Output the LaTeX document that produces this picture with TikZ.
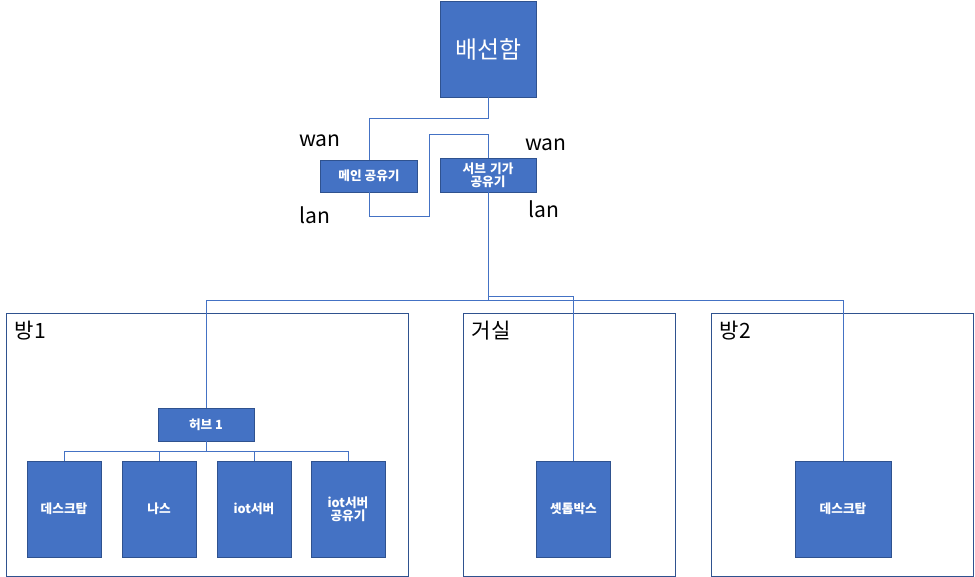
\documentclass[tikz,border=0pt]{standalone}
\usepackage{fontspec}
\setmainfont{Noto Sans CJK KR}
\usetikzlibrary{positioning}
\definecolor{boxblue}{HTML}{4472C4}
\definecolor{boxedge}{HTML}{2F528F}
\begin{document}
\begin{tikzpicture}[x=0.025cm,y=-0.025cm,
  box/.style={draw=boxedge,fill=boxblue,text=white,inner sep=0pt,align=center,font=\fontsize{9}{11}\selectfont\bfseries},
  room/.style={draw=boxedge,inner sep=0pt},
  wire/.style={draw=boxblue,line width=0.6pt},
  tag/.style={font=\fontsize{15}{17}\selectfont}]
\useasboundingbox (0,0) rectangle (975,577);

% rooms
\node[room,minimum width=402*0.025cm,minimum height=263*0.025cm] (r1) at (207,444.5) {};
\node[room,minimum width=212*0.025cm,minimum height=263*0.025cm] (r2) at (569,444.5) {};
\node[room,minimum width=262*0.025cm,minimum height=263*0.025cm] (r3) at (842,444.5) {};
\node[tag,anchor=north west] (t1) at (10,316) {방1};
\node[tag,anchor=north west] (t2) at (467,316) {거실};
\node[tag,anchor=north west] (t3) at (715,316) {방2};

% boxes
\node[box,minimum width=96*0.025cm,minimum height=96*0.025cm,font=\fontsize{17}{19}\selectfont] (wire) at (488,49) {배선함};
\node[box,minimum width=97*0.025cm,minimum height=32*0.025cm] (main) at (369,176) {메인 공유기};
\node[box,minimum width=96*0.025cm,minimum height=34*0.025cm,text width=90*0.025cm] (sub) at (488,175) {서브 기가\\[-2pt]공유기};
\node[box,minimum width=96*0.025cm,minimum height=33*0.025cm] (hub) at (206,424.5) {허브 1};
\foreach \n/\x/\w/\t in {d1/64/74/데스크탑,nas/159/74/나스,iot/254/74/iot서버,iotr/348/74/iot서버\\[-2pt]공유기,stb/573.5/74/셋톱박스,d2/843/96/데스크탑}
  \node[box,minimum width=\w*0.025cm,minimum height=96*0.025cm,text width=70*0.025cm] (\n) at (\x,509) {\t};

% labels
\node[tag] (wan1) at (320,141) {wan};
\node[tag] (lan1) at (315,215) {lan};
\node[tag] (wan2) at (546,145) {wan};
\node[tag] (lan2) at (544,209) {lan};

% connectors
\draw[wire] (wire.south) |- (369,118) -- (main.north);
\draw[wire] (main.south) |- (429,216) |- (488,134) -- (sub.north);
\draw[wire] (sub.south) -- (488,300);
\draw[wire] (207,300) -- (843,300);
\draw[wire] (hub.north) -- (206,300);
\draw[wire] (d2.north) -- (843,300);
\draw[wire] (488,296) -| (stb.north);
\draw[wire] (hub.south) -- (206,451);
\draw[wire] (64,451) -- (348,451);
\foreach \n in {d1,nas,iot,iotr}
  \draw[wire] (\n.north) -- (\n.north |- 0,451);
\end{tikzpicture}
\end{document}
